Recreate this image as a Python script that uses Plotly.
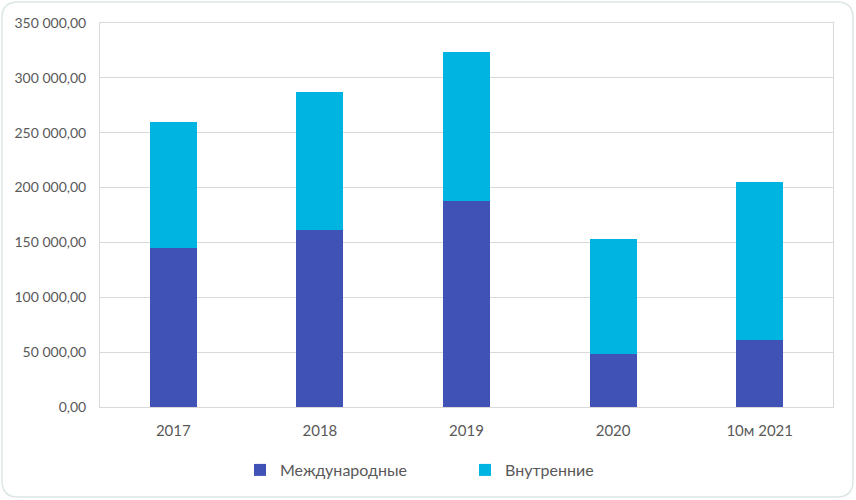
import plotly.graph_objects as go

categories = ["2017", "2018", "2019", "2020", "10м 2021"]
international = [144600, 161000, 187700, 48000, 60800]
domestic_total = [259500, 287000, 323400, 153000, 204700]
domestic = [t - i for t, i in zip(domestic_total, international)]
y_ticks = [0, 50000, 100000, 150000, 200000, 250000, 300000, 350000]

font_family = "Lato, 'Open Sans', sans-serif"
text_color = "#595959"
grid_color = "#D9D9D9"

fig = go.Figure()
fig.add_trace(go.Bar(x=categories, y=international, name="Международные",
                     marker=dict(color="#4052B5", line=dict(width=0))))
fig.add_trace(go.Bar(x=categories, y=domestic, name="Внутренние",
                     marker=dict(color="#00B4E1", line=dict(width=0))))

# rounded outer frame (paper coords relative to plot area)
L, R, T, B = 100, 833, 23, 407
W, H = R - L, B - T
def px(x):
    return (x - L) / W
def py(y):
    return (B - y) / H
x0, x1, y0, y1 = 2, 853, 2, 497
r = 16
path = (f"M {px(x0 + r)} {py(y0)} L {px(x1 - r)} {py(y0)} "
        f"Q {px(x1)} {py(y0)} {px(x1)} {py(y0 + r)} "
        f"L {px(x1)} {py(y1 - r)} Q {px(x1)} {py(y1)} {px(x1 - r)} {py(y1)} "
        f"L {px(x0 + r)} {py(y1)} Q {px(x0)} {py(y1)} {px(x0)} {py(y1 - r)} "
        f"L {px(x0)} {py(y0 + r)} Q {px(x0)} {py(y0)} {px(x0 + r)} {py(y0)} Z")

fig.update_layout(
    width=856, height=500,
    barmode="stack", bargap=0.68,
    separators=", ",
    paper_bgcolor="white", plot_bgcolor="white",
    margin=dict(l=L, r=856 - R, t=T, b=500 - B, autoexpand=False),
    font=dict(family=font_family, size=14, color=text_color),
    showlegend=True,
    legend=dict(orientation="h", x=px(240), xanchor="left", y=py(470), yanchor="middle",
                font=dict(size=16, color=text_color), entrywidth=180,
                itemwidth=30, traceorder="normal"),
    shapes=[dict(type="path", path=path, xref="paper", yref="paper",
                 line=dict(color="#DCE6E6", width=1.5), fillcolor="rgba(0,0,0,0)", layer="below")],
)
fig.update_yaxes(range=[0, 350000], tickvals=y_ticks, tickformat=",.2f", automargin=False,
                 showgrid=True, gridcolor=grid_color, gridwidth=1,
                 showline=True, linecolor=grid_color, mirror=True, zeroline=False,
                 ticks="", ticklabelstandoff=10, tickfont=dict(size=14, color=text_color))
fig.update_xaxes(showline=True, linecolor=grid_color, mirror=True, ticks="", automargin=False,
                 ticklabelstandoff=10, tickfont=dict(size=15, color=text_color))

fig.write_html("out.html", config={"displayModeBar": False},
               post_script="document.body.style.margin='0';")
